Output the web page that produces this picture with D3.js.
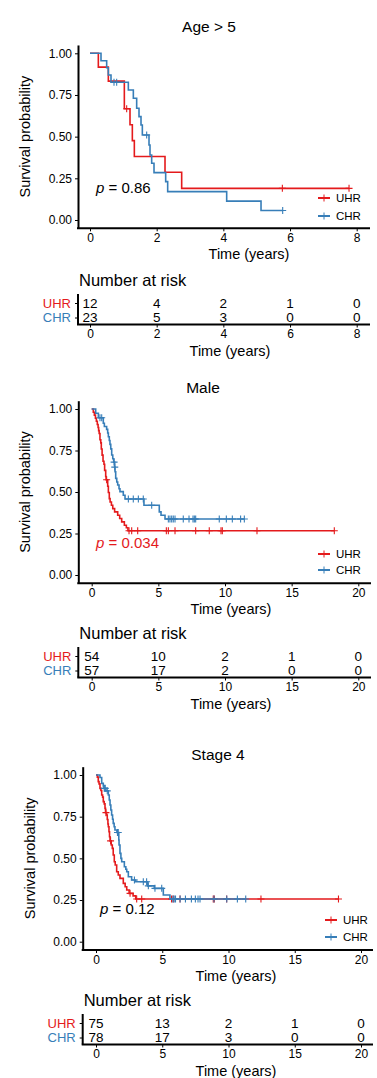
<!DOCTYPE html>
<html>
<head>
<meta charset="utf-8">
<script src="https://d3js.org/d3.v7.min.js"></script>
<style>
  body { margin: 0; background: #fff; }
  svg text { font-family: "Liberation Sans", Arial, sans-serif; }
  .axis path, .axis line { stroke: #000; }
  .axis text { font-size: 12px; }
</style>
</head>
<body>
<div id="chart"></div>
<script>
// ---- data: step points [time, survival], censor times, numbers at risk ----
var groups = ["UHR", "CHR"];
var colors = ["#E41A1C", "#377EB8"];
var survTicks = [0, 0.25, 0.5, 0.75, 1];

// Age > 5
var age5Ticks = [0, 2, 4, 6, 8];
var age5Uhr = [[0,1],[0.25,0.917],[0.55,0.833],[1.03,0.667],[1.2,0.571],[1.27,0.476],[1.33,0.381],[2.25,0.286],[2.75,0.19],[7.77,0.19]];
var age5UhrCens = [1.1, 5.77, 7.77];
var age5Chr = [[0,1],[0.33,0.955],[0.5,0.913],[0.55,0.87],[0.63,0.826],[1.15,0.78],[1.3,0.73],[1.4,0.67],[1.47,0.62],[1.53,0.57],[1.57,0.51],
  [1.77,0.45],[1.8,0.39],[1.85,0.34],[1.92,0.284],[2.27,0.23],[2.33,0.17],[4.1,0.113],[5.13,0.057],[5.78,0.057]];
var age5ChrCens = [0.72, 0.8, 1.7, 5.78];
var age5Risk = [[12, 4, 2, 1, 0], [23, 5, 3, 0, 0]];

// Male
var maleTicks = [0, 5, 10, 15, 20];
var maleUhr = [[0,1],[0.12,0.98],[0.2,0.963],[0.28,0.944],[0.35,0.926],[0.42,0.907],[0.48,0.889],[0.52,0.87],[0.56,0.852],[0.62,0.815],
  [0.68,0.796],[0.72,0.759],[0.78,0.722],[0.85,0.685],[0.92,0.667],[0.97,0.63],[1.05,0.593],[1.08,0.574],[1.2,0.535],[1.25,0.497],
  [1.32,0.46],[1.38,0.44],[1.48,0.42],[1.58,0.4],[1.72,0.38],[1.95,0.36],[2.1,0.34],[2.25,0.32],[2.45,0.3],[2.6,0.285],[2.72,0.267],[18.2,0.267]];
var maleUhrCens = [1.12, 2.8, 3.0, 3.45, 5.6, 5.75, 6.25, 7.8, 8.82, 9.7, 9.8, 12.4, 18.2];
var maleChr = [[0,1],[0.3,0.974],[0.5,0.947],[0.87,0.914],[0.95,0.895],[1.12,0.877],[1.2,0.855],[1.25,0.833],[1.32,0.81],[1.37,0.787],
  [1.43,0.76],[1.5,0.723],[1.58,0.7],[1.65,0.68],[1.72,0.65],[1.75,0.622],[1.8,0.582],[1.88,0.56],[1.95,0.542],[2.05,0.52],[2.12,0.502],
  [2.37,0.48],[2.5,0.458],[3.92,0.42],[5.07,0.38],[5.2,0.36],[5.5,0.337],[11.45,0.337]];
var maleChrCens = [0.62, 0.75, 1.68, 1.73, 2.75, 3.12, 3.5, 3.87, 4.5, 5.75, 5.87, 6.0, 6.12, 6.25, 6.87, 7.3, 7.6, 7.7, 7.8, 9.57, 10.1, 10.55, 11.17, 11.45];
var maleRisk = [[54, 10, 2, 1, 0], [57, 17, 2, 0, 0]];

// Stage 4
var stageTicks = [0, 5, 10, 15, 20];
var stageUhr = [[0,1],[0.1,0.987],[0.17,0.96],[0.23,0.947],[0.3,0.92],[0.37,0.907],[0.43,0.88],[0.5,0.867],[0.55,0.84],[0.62,0.827],
  [0.68,0.8],[0.72,0.774],[0.8,0.76],[0.85,0.733],[0.9,0.706],[0.93,0.69],[0.98,0.66],[1.02,0.63],[1.06,0.605],[1.15,0.58],[1.23,0.56],
  [1.3,0.52],[1.38,0.48],[1.45,0.46],[1.56,0.42],[1.68,0.4],[1.81,0.38],[2.06,0.35],[2.2,0.33],[2.32,0.31],[2.5,0.29],[2.8,0.275],[3.0,0.256],[18.3,0.256]];
var stageUhrCens = [0.75, 1.1, 2.57, 3.07, 3.45, 5.7, 5.83, 6.34, 8.85, 8.93, 9.86, 12.45, 18.3];
var stageChr = [[0,1],[0.3,0.985],[0.43,0.95],[0.55,0.935],[0.6,0.92],[0.75,0.905],[0.93,0.88],[1.0,0.85],[1.06,0.82],[1.12,0.79],[1.18,0.76],
  [1.25,0.735],[1.3,0.71],[1.37,0.69],[1.43,0.67],[1.58,0.655],[1.72,0.61],[1.74,0.58],[1.81,0.53],[1.88,0.5],[1.94,0.48],[2.14,0.45],
  [2.25,0.435],[2.32,0.42],[2.44,0.39],[2.69,0.37],[3.0,0.36],[3.9,0.335],[4.4,0.32],[5.08,0.28],[5.58,0.256],[11.3,0.256]];
var stageChrCens = [0.63, 0.7, 0.85, 1.62, 1.68, 2.9, 3.57, 3.82, 3.95, 4.45, 4.96, 5.8, 5.9, 6.0, 6.35, 6.75, 7.2, 7.5, 7.7, 7.85, 8.9, 9.87, 10.67, 11.3];
var stageRisk = [[75, 13, 2, 1, 0], [78, 17, 3, 0, 0]];

var W = 377, H = 1078;
var svg = d3.select("#chart").append("svg").attr("width", W).attr("height", H);

// survival at time t from a step list
function survAt(steps, t) {
  var s = steps[0][1];
  steps.forEach(function(p) { if (p[0] <= t) s = p[1]; });
  return s;
}

function drawPanel(c) {
  var x = d3.scaleLinear()
    .domain([(c.left - c.x0) / c.ppu, (c.right - c.x0) / c.ppu])
    .range([c.left, c.right]);
  var y = d3.scaleLinear()
    .domain([0, 1]).range([c.y0, c.y1]);
  var yTop = c.y1 - 0.05 * (c.y0 - c.y1), yBot = c.y0 + 0.05 * (c.y0 - c.y1);

  // title
  svg.append("text").attr("x", c.titleX).attr("y", c.top).attr("dy", "0.35em")
    .attr("text-anchor", "middle").style("font-size", "15.5px").style("fill", "#000").text(c.title);

  // curves
  var line = d3.line().x(function(d) { return x(d[0]); }).y(function(d) { return y(d[1]); })
    .curve(d3.curveStepAfter);
  c.curves.forEach(function(cv, i) {
    svg.append("path").datum(cv.steps)
      .attr("d", line).attr("fill", "none")
      .attr("stroke", colors[i]).attr("stroke-width", 1.6);
    svg.append("g").selectAll("path").data(cv.cens).enter().append("path")
      .attr("d", function(t) {
        var px = x(t), py = y(survAt(cv.steps, t));
        return "M" + (px - 3.5) + "," + py + "H" + (px + 3.5) + "M" + px + "," + (py - 3.5) + "V" + (py + 3.5);
      })
      .attr("stroke", colors[i]).attr("stroke-width", 1.1).attr("fill", "none");
  });

  // axes
  var yScaleAx = d3.scaleLinear().domain([-0.05, 1.05]).range([yBot, yTop]);
  var gy = svg.append("g").attr("class", "axis")
    .attr("transform", "translate(" + c.left + ",0)")
    .call(d3.axisLeft(yScaleAx).tickValues(survTicks).tickFormat(d3.format(".2f")).tickSize(3).tickSizeOuter(0).tickPadding(3));
  var gx = svg.append("g").attr("class", "axis")
    .attr("transform", "translate(0," + yBot + ")")
    .call(d3.axisBottom(x).tickValues(c.ticks).tickSize(3).tickSizeOuter(0).tickPadding(2));
  [gx, gy].forEach(function(g) {
    g.select(".domain").attr("stroke-width", 2);
    g.selectAll("text").style("font-size", "12px").style("fill", "#000");
  });
  gx.select(".domain").attr("d", "M" + (c.left - 1) + ",0H" + c.right);

  // axis titles
  svg.append("text").attr("transform", "translate(" + c.ylabX + "," + ((yTop + yBot) / 2) + ") rotate(-90)")
    .attr("dy", "0.35em").attr("text-anchor", "middle").style("font-size", "14.5px").style("fill", "#000").text("Survival probability");
  svg.append("text").attr("x", c.xlabX).attr("y", yBot + 26).attr("dy", "0.35em")
    .attr("text-anchor", "middle").style("font-size", "14.5px").style("fill", "#000").text("Time (years)");

  // p-value
  var pt = svg.append("text").attr("x", c.pX).attr("y", c.pY).attr("dy", "0.35em")
    .style("font-size", "15px").style("fill", c.pColor);
  pt.append("tspan").style("font-style", "italic").text("p");
  pt.append("tspan").text(" = " + c.pValue);

  // legend
  groups.forEach(function(gname, i) {
    var ly = c.legY + i * c.legGap;
    svg.append("line").attr("x1", c.legX).attr("x2", c.legX + 12).attr("y1", ly).attr("y2", ly)
      .attr("stroke", colors[i]).attr("stroke-width", 2);
    svg.append("line").attr("x1", c.legX + 6).attr("x2", c.legX + 6).attr("y1", ly - 3.5).attr("y2", ly + 3.5)
      .attr("stroke", colors[i]).attr("stroke-width", 1);
    svg.append("text").attr("x", c.legX + 18).attr("y", ly).attr("dy", "0.35em")
      .style("font-size", "11.5px").style("fill", "#000").text(gname);
  });

  // risk table
  var rt = c.riskTop;
  svg.append("text").attr("x", c.left + 1).attr("y", rt).attr("dy", "0.35em")
    .style("font-size", "16.5px").style("fill", "#000").text("Number at risk");
  var rowY = [rt + 23, rt + 37.5];
  var rAxisY = rt + 44.5;
  var band = d3.scalePoint().domain(groups).range(rowY);
  var gry = svg.append("g").attr("class", "axis")
    .attr("transform", "translate(" + c.left + ",0)")
    .call(d3.axisLeft(band).tickSize(3).tickSizeOuter(0).tickPadding(4));
  gry.select(".domain").attr("d", "M0," + (rt + 14) + "V" + rAxisY).attr("stroke-width", 2);
  gry.selectAll("text").style("font-size", "13px").style("fill", function(d, i) { return colors[i]; });
  var grx = svg.append("g").attr("class", "axis")
    .attr("transform", "translate(0," + rAxisY + ")")
    .call(d3.axisBottom(x).tickValues(c.ticks).tickSize(3).tickSizeOuter(0).tickPadding(2));
  grx.select(".domain").attr("d", "M" + (c.left - 1) + ",0H" + c.right).attr("stroke-width", 2);
  grx.selectAll("text").style("font-size", "12px").style("fill", "#000");
  c.risk.forEach(function(row, i) {
    svg.append("g").selectAll("text").data(row).enter().append("text")
      .attr("x", function(d, j) { return x(c.ticks[j]); })
      .attr("y", rowY[i]).attr("dy", "0.35em").attr("text-anchor", "middle")
      .style("font-size", "13.5px").style("fill", "#000").text(function(d) { return d; });
  });
  svg.append("text").attr("x", c.riskLabX).attr("y", rAxisY + 26).attr("dy", "0.35em")
    .attr("text-anchor", "middle").style("font-size", "14.5px").style("fill", "#000").text("Time (years)");
}

drawPanel({
  title: "Age > 5", titleX: 209, top: 27,
  x0: 90, ppu: (356.7 - 90) / 8, left: 78, right: 370, y1: 53.3, y0: 220,
  ticks: age5Ticks, ylabX: 25, xlabX: 249,
  curves: [{steps: age5Uhr, cens: age5UhrCens}, {steps: age5Chr, cens: age5ChrCens}],
  pX: 96, pY: 188, pValue: "0.86", pColor: "#000",
  legX: 318, legY: 198, legGap: 18,
  riskTop: 280, risk: age5Risk, riskLabX: 230
});
drawPanel({
  title: "Male", titleX: 203, top: 388,
  x0: 91.7, ppu: (358.3 - 91.7) / 20, left: 78.3, right: 371, y1: 409, y0: 575,
  ticks: maleTicks, ylabX: 25, xlabX: 231,
  curves: [{steps: maleUhr, cens: maleUhrCens}, {steps: maleChr, cens: maleChrCens}],
  pX: 96, pY: 543, pValue: "0.034", pColor: "#E41A1C",
  legX: 318, legY: 554, legGap: 16,
  riskTop: 633, risk: maleRisk, riskLabX: 231
});
drawPanel({
  title: "Stage 4", titleX: 218, top: 755,
  x0: 96, ppu: (361 - 96) / 20, left: 82.7, right: 373, y1: 775, y0: 941.7,
  ticks: stageTicks, ylabX: 30, xlabX: 236,
  curves: [{steps: stageUhr, cens: stageUhrCens}, {steps: stageChr, cens: stageChrCens}],
  pX: 100, pY: 909, pValue: "0.12", pColor: "#000",
  legX: 325, legY: 920, legGap: 17,
  riskTop: 1000, risk: stageRisk, riskLabX: 236
});
</script>
</body>
</html>
